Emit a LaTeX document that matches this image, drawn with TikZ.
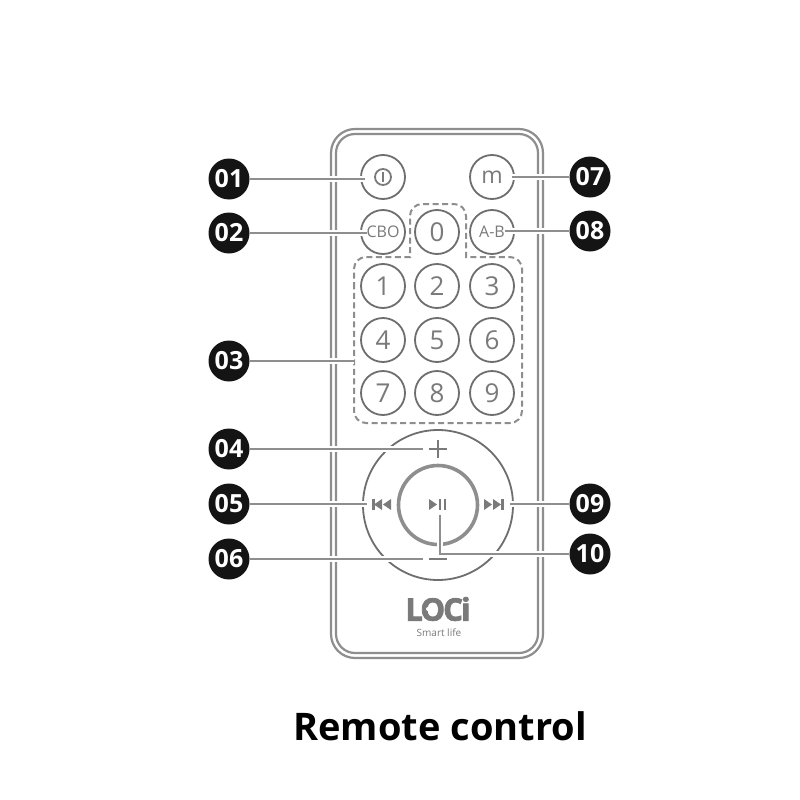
\documentclass[tikz,border=0pt]{standalone}
\usepackage{fontspec}
\setmainfont{Open Sans}
\usetikzlibrary{positioning, calc}
\definecolor{cline}{HTML}{8E8E8E}
\definecolor{cring}{HTML}{6E6E6E}
\definecolor{ctext}{HTML}{7A7A7A}
\definecolor{cbadge}{HTML}{141414}
\tikzset{
  every picture/.style={x=1pt, y=-1pt},
  btn/.style={circle, draw=cring, line width=1.8pt, fill=white, minimum size=44pt, inner sep=0pt, text=ctext, font=\fontsize{26}{26}\selectfont},
  badge/.style={circle, fill=cbadge, minimum size=41pt, inner sep=0pt, text=white, font=\fontsize{25}{25}\selectfont\bfseries},
  lead/.style={draw=cline, line width=2pt, preaction={draw=white, line width=6pt}},
  shell/.style={draw=cline, line width=2.2pt},
  group/.style={draw=cline, line width=2pt, dash pattern=on 6pt off 3.5pt},
  icon/.style={fill=ctext, draw=none},
  stroke/.style={draw=ctext, line width=2.4pt},
}
\begin{document}
\begin{tikzpicture}
  \path[use as bounding box, fill=white] (0,0) rectangle (800,800);
  % body
  \draw[shell, rounded corners=24pt] (331,129) rectangle (543,658);
  \draw[shell, rounded corners=19pt] (336,134) rectangle (538,653);
  % top buttons
  \node[btn] (power) at (383,177) {};
  \node[btn, font=\fontsize{23}{23}\selectfont] (mode) at (492,177) {m};
  \node[btn, font=\fontsize{16}{16}\selectfont] (cbo) at (383,232) {CBO};
  \node[btn] (zero) at (437,232) {0};
  \node[btn, font=\fontsize{16}{16}\selectfont] (ab) at (492,232) {A-B};
  \draw[stroke, line width=1.8pt] (power.center) circle (8);
  \draw[stroke, line width=1.8pt] (383,172) -- (383,182);
  % number pad
  \foreach \n/\x/\y in {1/383/286, 2/437/286, 3/492/286, 4/383/340, 5/437/340, 6/492/340, 7/383/393, 8/437/393, 9/492/393}
    \node[btn] (num\n) at (\x,\y) {\n};
  % dashed group
  \draw[group, rounded corners=12pt] (354,300) -- (354,257) [sharp corners] -- (410,257) [rounded corners=12pt] -- (410,204) -- (466,204) [sharp corners] -- (466,257) [rounded corners=12pt] -- (522,257) -- (522,423) -- (354,423) -- cycle;
  % wheel
  \node[circle, draw=cring, line width=1.8pt, minimum size=150pt, inner sep=0pt] (wheel) at (438,505) {};
  \node[circle, draw=cline, line width=3.6pt, minimum size=79pt, inner sep=0pt] (play) at (438,505) {};
  \draw[stroke] (429,449) -- (447,449) (438,440) -- (438,458);
  \draw[stroke] (429,559) -- (447,559);
  % prev, next, play
  \fill[icon] (372,499) rectangle (374.5,510);
  \fill[icon] (382,499) -- (382,510) -- (374,504.5) -- cycle;
  \fill[icon] (391,499) -- (391,510) -- (383,504.5) -- cycle;
  \fill[icon] (484,499) -- (484,510) -- (492,504.5) -- cycle;
  \fill[icon] (493,499) -- (493,510) -- (501,504.5) -- cycle;
  \fill[icon] (501,499) rectangle (503.5,510);
  \fill[icon] (429,499) -- (429,510) -- (437,504.5) -- cycle;
  \fill[icon] (439,499) rectangle (441,510);
  \fill[icon] (444,499) rectangle (446,510);
  % logo
  \node[text=ctext, inner sep=0pt, font=\fontsize{31}{31}\selectfont\bfseries\addfontfeature{FakeBold=2.5, LetterSpace=-6}] (logo) at (438,609) {LOCi};
  \fill[white] (428,609) circle (2) (436,609) circle (2);
  \node[text=ctext, inner sep=0pt, font=\fontsize{10}{10}\selectfont] (slogan) at (439,633) {Smart life};
  % badges
  \foreach \n/\nm/\x/\y in {01/a/229/179, 02/b/229/233, 03/c/229/361, 04/d/229/449, 05/e/229/504, 06/f/229/559, 07/g/590/177, 08/h/590/231, 09/i/590/504, 10/j/590/554}
    \node[badge] (\nm) at (\x,\y) {\n};
  % leads
  \coordinate (wl) at (367,504);
  \coordinate (wr) at (510,504);
  \coordinate (bend) at (440,554);
  \coordinate (tip) at (440,515);
  \coordinate (grp) at (354,361);
  \coordinate (pl) at (423,449);
  \coordinate (mi) at (423,559);
  \draw[lead] (a) -- (365,179);
  \draw[lead] (b) -- (367,233);
  \draw[lead] (c) -- (grp);
  \draw[lead] (d) -- (pl);
  \draw[lead] (e) -- (wl);
  \draw[lead] (f) -- (mi);
  \draw[lead] (g) -- (512,177);
  \draw[lead] (h) -- (505,231);
  \draw[lead] (i) -- (wr);
  \draw[lead] (j) -- (bend) -- (tip);
  % title
  \node[font=\fontsize{38}{38}\selectfont\bfseries, text=black, inner sep=0pt] (title) at (440,726) {Remote control};
\end{tikzpicture}
\end{document}
